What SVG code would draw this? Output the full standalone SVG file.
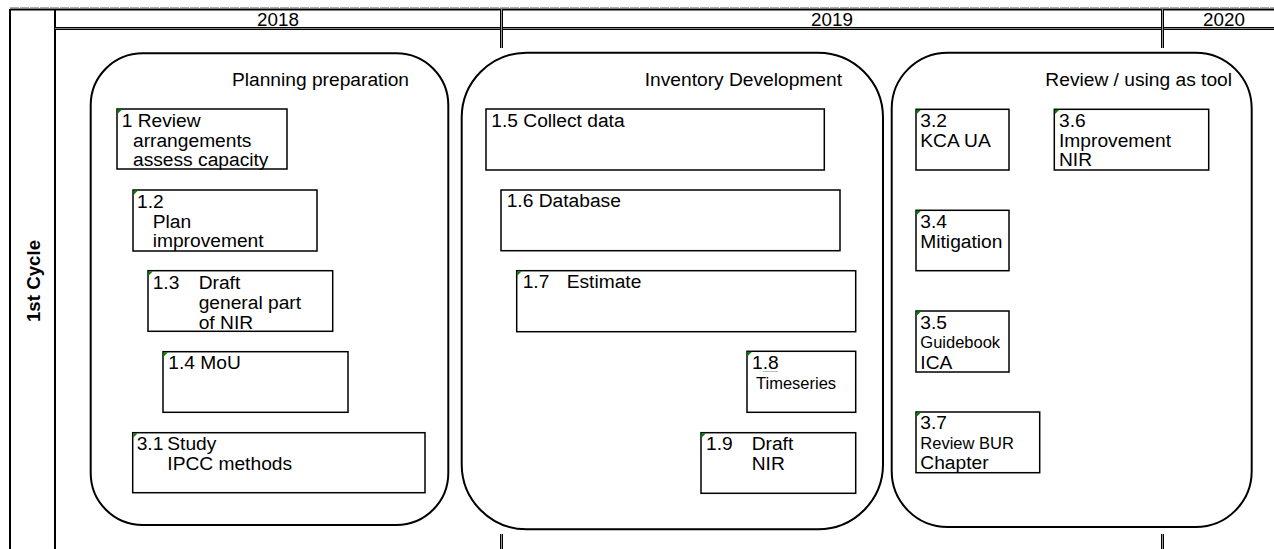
<svg xmlns="http://www.w3.org/2000/svg" width="1274" height="549" viewBox="0 0 1274 549">
<style>
text{font-family:"Liberation Sans",Arial,sans-serif;fill:#000;font-size:19.2px}
.sm{font-size:16.5px}
.yr{font-size:18.8px}
.b{font-weight:bold;font-size:18.7px}
.grid{stroke:#000;stroke-width:2;fill:none}
.dbl{stroke:#000;stroke-width:1;fill:none}
.cont{fill:none;stroke:#000;stroke-width:2}
.box{fill:#fff;stroke:#000;stroke-width:1.5}
.tri{fill:#008000}
</style>
<rect width="1274" height="549" fill="#fff"/>
<g id="grid">
<line x1="10" y1="7.5" x2="1274" y2="7.5" stroke="#aaa" stroke-width="1" stroke-dasharray="9 1"/>
<line class="grid" x1="10" y1="9.5" x2="1274" y2="9.5"/>
<line class="grid" x1="10" y1="9" x2="10" y2="549"/>
<line class="grid" x1="55" y1="9" x2="55" y2="549"/>
<line class="dbl" x1="55" y1="27.5" x2="1274" y2="27.5"/>
<line x1="55" y1="28.5" x2="1274" y2="28.5" stroke="#888" stroke-width="1"/>
<line class="dbl" x1="55" y1="29.5" x2="1274" y2="29.5"/>
<line class="dbl" x1="500.5" y1="9" x2="500.5" y2="48"/>
<line x1="501.5" y1="9" x2="501.5" y2="48" stroke="#999" stroke-width="1"/>
<line class="dbl" x1="502.5" y1="9" x2="502.5" y2="48"/>
<line class="dbl" x1="500.5" y1="534" x2="500.5" y2="549"/>
<line x1="501.5" y1="534" x2="501.5" y2="549" stroke="#999" stroke-width="1"/>
<line class="dbl" x1="502.5" y1="534" x2="502.5" y2="549"/>
<line class="dbl" x1="1161.5" y1="9" x2="1161.5" y2="48"/>
<line x1="1162.5" y1="9" x2="1162.5" y2="48" stroke="#999" stroke-width="1"/>
<line class="dbl" x1="1163.5" y1="9" x2="1163.5" y2="48"/>
<line class="dbl" x1="1161.5" y1="534" x2="1161.5" y2="549"/>
<line x1="1162.5" y1="534" x2="1162.5" y2="549" stroke="#999" stroke-width="1"/>
<line class="dbl" x1="1163.5" y1="534" x2="1163.5" y2="549"/>
<text class="yr" x="278" y="26" text-anchor="middle">2018</text>
<text class="yr" x="832" y="26" text-anchor="middle">2019</text>
<text class="yr" x="1224" y="26" text-anchor="middle">2020</text>
<text class="b" transform="translate(40,281) rotate(-90)" text-anchor="middle">1st Cycle</text>
</g>
<g id="phase-planning">
<rect class="cont" x="90.7" y="53.3" width="357.6" height="471.7" rx="52" ry="52"/>
<text x="409" y="85.7" text-anchor="end">Planning preparation</text>
</g>
<g id="phase-inventory">
<rect class="cont" x="461.7" y="52.7" width="421.3" height="476.6" rx="65" ry="65"/>
<text x="842" y="85.7" text-anchor="end">Inventory Development</text>
</g>
<g id="phase-review">
<rect class="cont" x="891.7" y="52.7" width="360" height="474.3" rx="56" ry="56"/>
<text x="1232" y="85.7" text-anchor="end">Review / using as tool</text>
</g>
<g id="n1">
<rect class="box" x="117" y="109" width="170" height="60"/>
<path class="tri" d="M117.5 109.5h4.5l-4.5 4.5z"/>
<text x="121.7" y="127">1 Review</text>
<text x="133" y="146.5">arrangements</text>
<text x="133" y="165.5">assess capacity</text>
</g>
<g id="n1-2">
<rect class="box" x="133" y="190" width="184" height="61"/>
<path class="tri" d="M133.5 190.5h4.5l-4.5 4.5z"/>
<text x="137" y="207.5">1.2</text>
<text x="152.7" y="227.5">Plan</text>
<text x="152.7" y="247">improvement</text>
</g>
<g id="n1-3">
<rect class="box" x="148" y="270.7" width="184.7" height="60.6"/>
<path class="tri" d="M148.5 271.2h4.5l-4.5 4.5z"/>
<text x="152.7" y="288.5">1.3</text>
<text x="198.7" y="288.5">Draft</text>
<text x="198.7" y="309">general part</text>
<text x="198.7" y="328.7">of NIR</text>
</g>
<g id="n1-4">
<rect class="box" x="163" y="351.7" width="185" height="60.6"/>
<path class="tri" d="M163.5 352.2h4.5l-4.5 4.5z"/>
<text x="168.3" y="369.3">1.4 MoU</text>
</g>
<g id="n3-1">
<rect class="box" x="132.7" y="432.7" width="292.3" height="60"/>
<path class="tri" d="M133.2 433.2h4.5l-4.5 4.5z"/>
<text x="136.7" y="450">3.1</text>
<text x="167.3" y="450">Study</text>
<text x="167.3" y="470">IPCC methods</text>
</g>
<g id="n1-5">
<rect class="box" x="486" y="109" width="338.3" height="61"/>
<text x="491.3" y="126.7">1.5 Collect data</text>
</g>
<g id="n1-6">
<rect class="box" x="501" y="190" width="339" height="60.7"/>
<text x="506.7" y="206.7">1.6 Database</text>
</g>
<g id="n1-7">
<rect class="box" x="516.7" y="270.7" width="339" height="61"/>
<path class="tri" d="M517.2 271.2h4.5l-4.5 4.5z"/>
<text x="522.7" y="288.3">1.7</text>
<text x="566.7" y="288.3">Estimate</text>
</g>
<g id="n1-8">
<rect class="box" x="747" y="351.3" width="108.7" height="61"/>
<path class="tri" d="M747.5 351.8h4.5l-4.5 4.5z"/>
<text x="752" y="369.3">1.8</text>
<line x1="763" y1="371.5" x2="778" y2="371.5" stroke="#bbb" stroke-width="1"/>
<text class="sm" x="756" y="389">Timeseries</text>
</g>
<g id="n1-9">
<rect class="box" x="701" y="432.7" width="154.7" height="60.6"/>
<path class="tri" d="M701.5 433.2h4.5l-4.5 4.5z"/>
<text x="706" y="450">1.9</text>
<text x="751.7" y="450">Draft</text>
<text x="751.7" y="470">NIR</text>
</g>
<g id="n3-2">
<rect class="box" x="916" y="109.3" width="93" height="60.7"/>
<path class="tri" d="M916.5 109.8h4.5l-4.5 4.5z"/>
<text x="920.3" y="127.3">3.2</text>
<text x="920.3" y="146.7">KCA UA</text>
</g>
<g id="n3-6">
<rect class="box" x="1054.3" y="109.3" width="154.4" height="60.7"/>
<path class="tri" d="M1054.8 109.8h4.5l-4.5 4.5z"/>
<text x="1059" y="127.3">3.6</text>
<text x="1059" y="146.7">Improvement</text>
<text x="1059" y="166">NIR</text>
</g>
<g id="n3-4">
<rect class="box" x="916" y="210.3" width="93" height="60.4"/>
<path class="tri" d="M916.5 210.8h4.5l-4.5 4.5z"/>
<text x="920.3" y="228.3">3.4</text>
<text x="920.3" y="248.3">Mitigation</text>
</g>
<g id="n3-5">
<rect class="box" x="916" y="311" width="93" height="61"/>
<path class="tri" d="M916.5 311.5h4.5l-4.5 4.5z"/>
<text x="920.3" y="329">3.5</text>
<text class="sm" x="920.3" y="348">Guidebook</text>
<text x="920.3" y="368.7">ICA</text>
</g>
<g id="n3-7">
<rect class="box" x="916" y="412" width="123.7" height="60.7"/>
<path class="tri" d="M916.5 412.5h4.5l-4.5 4.5z"/>
<text x="920.3" y="429.3">3.7</text>
<text class="sm" x="920.3" y="448.7">Review BUR</text>
<text x="920.3" y="469.3">Chapter</text>
</g>
<g id="connectors"/>
</svg>
